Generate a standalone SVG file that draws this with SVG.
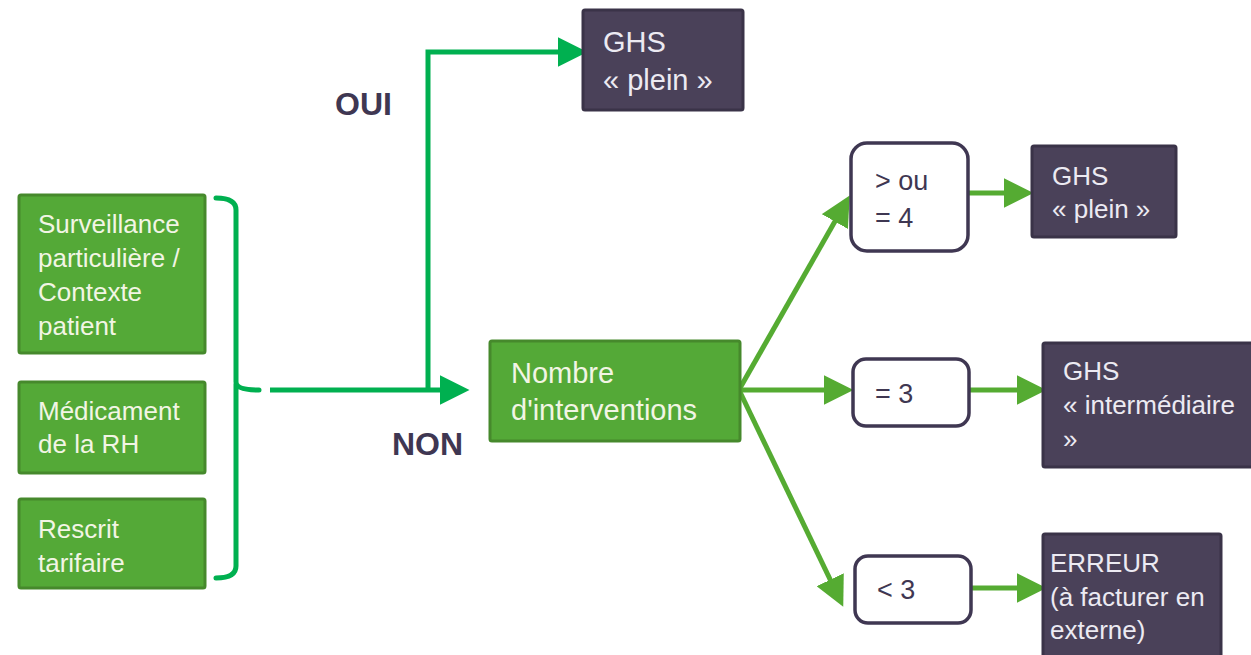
<svg xmlns="http://www.w3.org/2000/svg" width="1251" height="655" viewBox="0 0 1251 655">
<defs>
<style>
.gbox{fill:#54a937;stroke:#46892c;stroke-width:3}
.dbox{fill:#4a4159;stroke:#3a3348;stroke-width:3}
.cbox{fill:#ffffff;stroke:#3f3752;stroke-width:3.5}
.t{font-family:"Liberation Sans",Arial,sans-serif}
.gt{fill:#f2f5e4;font-size:26px}
.dt{fill:#eceaf2}
.ct{fill:#3f3752;font-size:27px}
.lbl{fill:#3f3752;font-size:32px;font-weight:bold}
.bright{stroke:#00b050;stroke-width:5;fill:none}
.mid{stroke:#55ab32;stroke-width:5;fill:none}
</style>
<marker id="ab" markerWidth="6" markerHeight="6" refX="4.5" refY="3" orient="auto" markerUnits="strokeWidth" viewBox="0 0 6 6"><path d="M0,0 L6,3 L0,6 z" fill="#00b050"/></marker>
<marker id="am" markerWidth="6" markerHeight="6" refX="4.5" refY="3" orient="auto" markerUnits="strokeWidth" viewBox="0 0 6 6"><path d="M0,0 L6,3 L0,6 z" fill="#55ab32"/></marker>
</defs>
<rect width="1251" height="655" fill="#ffffff"/>

<g id="connectors">
<path class="bright" d="M216,198 Q236,198 236,210 L236,382 Q236,390 259,390 M236,384 Q236,390 236,398 L236,566 Q236,578 216,578" stroke-linecap="round"/>
<line class="bright" x1="270" y1="390" x2="462" y2="390" marker-end="url(#ab)"/>
<polyline class="bright" points="428,390 428,52 580,52" marker-end="url(#ab)"/>
<line class="mid" x1="740" y1="388" x2="846" y2="202" marker-end="url(#am)"/>
<line class="mid" x1="740" y1="390" x2="846" y2="390" marker-end="url(#am)"/>
<line class="mid" x1="740" y1="392" x2="840" y2="600" marker-end="url(#am)"/>
<line class="mid" x1="968" y1="193" x2="1026" y2="193" marker-end="url(#am)"/>
<line class="mid" x1="970" y1="390" x2="1039" y2="390" marker-end="url(#am)"/>
<line class="mid" x1="972" y1="588" x2="1039" y2="588" marker-end="url(#am)"/>
</g>

<g id="n-surveillance">
<rect class="gbox" x="19" y="195" width="186" height="158" rx="2"/>
<text class="t gt" x="38" y="233">Surveillance</text>
<text class="t gt" x="38" y="267">particulière /</text>
<text class="t gt" x="38" y="301">Contexte</text>
<text class="t gt" x="38" y="335">patient</text>
</g>
<g id="n-medicament">
<rect class="gbox" x="19" y="382" width="186" height="91" rx="2"/>
<text class="t gt" x="38" y="420">Médicament</text>
<text class="t gt" x="38" y="453">de la RH</text>
</g>
<g id="n-rescrit">
<rect class="gbox" x="19" y="499" width="186" height="89" rx="2"/>
<text class="t gt" x="38" y="538">Rescrit</text>
<text class="t gt" x="38" y="572">tarifaire</text>
</g>

<g id="l-oui"><text class="t lbl" x="335" y="115">OUI</text></g>
<g id="l-non"><text class="t lbl" x="392" y="455">NON</text></g>

<g id="n-ghs-top">
<rect class="dbox" x="583" y="10" width="160" height="100" rx="2"/>
<text class="t dt" x="603" y="52" font-size="29">GHS</text>
<text class="t dt" x="603" y="90" font-size="29">« plein »</text>
</g>

<g id="n-nombre">
<rect class="gbox" x="490" y="341" width="250" height="100" rx="2"/>
<text class="t gt" x="511" y="383" style="font-size:29px">Nombre</text>
<text class="t gt" x="511" y="420" style="font-size:29px">d'interventions</text>
</g>

<g id="n-ge4">
<rect class="cbox" x="851" y="143" width="117" height="108" rx="16"/>
<text class="t ct" x="875" y="190">&gt; ou</text>
<text class="t ct" x="875" y="227">= 4</text>
</g>
<g id="n-eq3">
<rect class="cbox" x="853" y="359" width="116" height="67" rx="13"/>
<text class="t ct" x="875" y="403">= 3</text>
</g>
<g id="n-lt3">
<rect class="cbox" x="855" y="556" width="116" height="67" rx="13"/>
<text class="t ct" x="877" y="599">&lt; 3</text>
</g>

<g id="n-ghs-plein">
<rect class="dbox" x="1032" y="146" width="144" height="91" rx="2"/>
<text class="t dt" x="1052" y="185" font-size="26">GHS</text>
<text class="t dt" x="1052" y="218" font-size="26">« plein »</text>
</g>
<g id="n-ghs-inter">
<rect class="dbox" x="1043" y="343" width="215" height="124" rx="2"/>
<text class="t dt" x="1063" y="380" font-size="26">GHS</text>
<text class="t dt" x="1063" y="414" font-size="26">« intermédiaire</text>
<text class="t dt" x="1063" y="448" font-size="26">»</text>
</g>
<g id="n-erreur">
<rect class="dbox" x="1043" y="534" width="178" height="130" rx="2"/>
<text class="t dt" x="1050" y="572" font-size="26">ERREUR</text>
<text class="t dt" x="1050" y="606" font-size="26">(à facturer en</text>
<text class="t dt" x="1050" y="639" font-size="26">externe)</text>
</g>
</svg>
